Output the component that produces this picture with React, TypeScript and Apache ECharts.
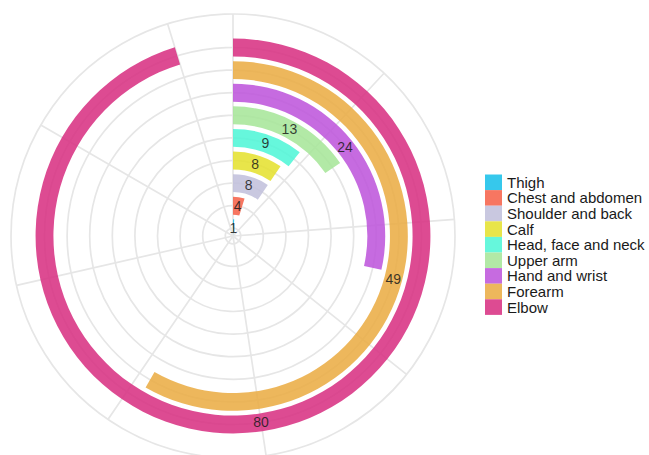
import React, { useEffect, useRef } from "react";
import * as echarts from "echarts";

// Injury counts by body part, innermost ring first
const parts = [
  "Thigh",
  "Chest and abdomen",
  "Shoulder and back",
  "Calf",
  "Head, face and neck",
  "Upper arm",
  "Hand and wrist",
  "Forearm",
  "Elbow",
];
const counts = [1, 4, 8, 8, 9, 13, 24, 49, 80];
const partColors = [
  "#13bee9",
  "#f65e45",
  "#bfbeda",
  "#e4e02a",
  "#4bf6d6",
  "#a4e596",
  "#bc51da",
  "#eaaa40",
  "#d72c7f",
];

// Angular scale: full turn equals angleMax, spokes every angleStep
const angleMax = 84;
const angleStep = 10;

const FONT = "'Liberation Sans', Arial, Helvetica, sans-serif";

export default function App() {
  const ref = useRef<HTMLDivElement>(null);

  useEffect(() => {
    const chart = echarts.init(ref.current!, null, { renderer: "svg" });
    const gridLine = { color: "#e6e6e6", width: 1.7 };

    chart.setOption({
      animation: false,
      backgroundColor: "#ffffff",
      polar: [
        { center: [233, 236], radius: [0, 222] },
        { center: [233, 236], radius: [7.7, 188.5] },
      ],
      angleAxis: [
        {
          polarIndex: 0,
          type: "value",
          min: 0,
          max: angleMax,
          interval: angleStep,
          startAngle: 90,
          clockwise: true,
          axisLine: { show: true, lineStyle: gridLine },
          axisTick: { show: false },
          axisLabel: { show: false },
          splitLine: { show: true, lineStyle: gridLine },
        },
        {
          polarIndex: 1,
          type: "value",
          min: 0,
          max: angleMax,
          startAngle: 90,
          clockwise: true,
          show: false,
        },
      ],
      radiusAxis: [
        { polarIndex: 0, type: "value", show: false },
        {
          polarIndex: 1,
          type: "category",
          data: parts,
          boundaryGap: false,
          axisLine: { show: false },
          axisTick: { show: false, interval: 0 },
          axisLabel: { show: false, interval: 0 },
          splitLine: { show: true, interval: 0, lineStyle: gridLine },
        },
      ],
      legend: {
        orient: "vertical",
        left: 480,
        top: 169.5,
        itemWidth: 17,
        itemHeight: 15.6,
        itemGap: 0,
        icon: "rect",
        selectedMode: false,
        data: parts,
        itemStyle: { opacity: 0.85 },
        textStyle: { fontFamily: FONT, fontSize: 15, color: "#1a1a1a", lineHeight: 15 },
      },
      series: parts.map((name, k) => ({
        name,
        type: "bar",
        coordinateSystem: "polar",
        polarIndex: 1,
        stack: "parts",
        clip: false,
        barWidth: "79%",
        data: parts.map((_, i) => (i === k ? counts[k] : "-")),
        itemStyle: { color: partColors[k], opacity: 0.85 },
        label: {
          show: true,
          position: "middle",
          rotate: 0,
          formatter: "{c}",
          fontFamily: FONT,
          fontSize: 14,
          color: "#1a1a1a",
        },
      })),
    });

    return () => chart.dispose();
  }, []);

  return (
    <div
      ref={ref}
      style={{ position: "absolute", left: 0, top: 0, width: 649, height: 455 }}
    />
  );
}
